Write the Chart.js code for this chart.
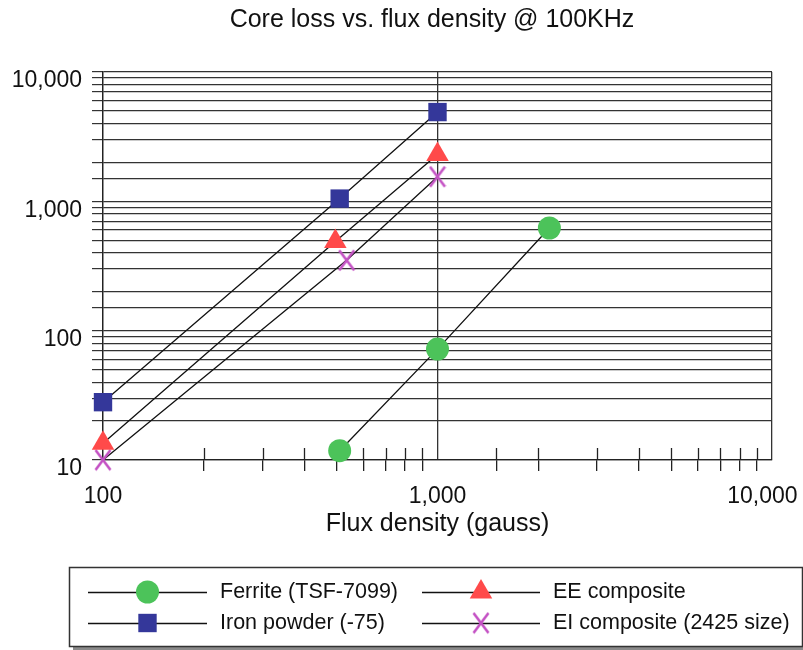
<!DOCTYPE html>
<html>
<head>
<meta charset="utf-8">
<script src="https://cdn.jsdelivr.net/npm/chart.js@4/dist/chart.umd.min.js"></script>
<style>
  body { margin: 0; background: #fff; }
</style>
</head>
<body>
<canvas id="myChart" width="803" height="650"></canvas>
<script>
// data (gauss, mW/cm3)
const chartTitle = 'Core loss vs. flux density @ 100KHz';
const seriesNames = ['Ferrite (TSF-7099)', 'Iron powder (-75)', 'EE composite', 'EI composite (2425 size)'];
const ferriteX = [510, 1000, 2160];
const ferriteY = [11.8, 72, 622];
const ironX = [100, 510, 1000];
const ironY = [28, 1050, 4900];
const eeX = [100, 495, 1000];
const eeY = [13.5, 490, 2300];
const eiX = [100, 535, 1000];
const eiY = [10, 350, 1550];
const xTickLabels = [100, 1000, 10000];
const yTickLabels = [10, 100, 1000, 10000];

const FONT = "'Liberation Sans', Arial, sans-serif";
Chart.defaults.font.family = FONT;
Chart.defaults.color = '#111';

const isPow10 = v => Math.abs(Math.log10(v) - Math.round(Math.log10(v))) < 1e-9;
const pts = (xs, ys) => xs.map((x, i) => ({x: x, y: ys[i]}));

// tall X marker
const xMark = document.createElement('canvas');
xMark.width = 18; xMark.height = 23;
(() => {
  const c = xMark.getContext('2d');
  c.strokeStyle = '#c452c4';
  c.lineWidth = 2.6;
  c.beginPath();
  c.moveTo(1.5, 1.5); c.lineTo(16.5, 21.5);
  c.moveTo(16.5, 1.5); c.lineTo(1.5, 21.5);
  c.stroke();
})();

const mk = (label, data, color, style, radius) => ({
  label: label,
  data: data,
  showLine: true,
  clip: false,
  borderColor: '#111',
  borderWidth: 1.3,
  pointStyle: style,
  pointRadius: radius,
  pointHoverRadius: radius,
  pointBackgroundColor: color,
  pointBorderColor: color,
  pointBorderWidth: 0,
  _mark: color
});

const datasets = [
  mk(seriesNames[0], pts(ferriteX, ferriteY), '#4cc35a', 'circle', 11.5),
  mk(seriesNames[1], pts(ironX, ironY), '#34379a', 'rect', 13),
  mk(seriesNames[2], pts(eeX, eeY), '#ff4a4a', 'triangle', 13),
  mk(seriesNames[3], pts(eiX, eiY), '#c452c4', xMark, 12)
];

// title centred over the plot
const topTitle = {
  id: 'topTitle',
  afterDraw(chart) {
    const ctx = chart.ctx;
    ctx.save();
    ctx.fillStyle = '#111';
    ctx.font = '25px ' + FONT;
    ctx.textAlign = 'center';
    ctx.textBaseline = 'middle';
    ctx.fillText(chartTitle, 432, 20);
    ctx.restore();
  }
};

// short minor ticks poking up from the x axis
const minorTicks = {
  id: 'minorTicks',
  beforeDatasetsDraw(chart) {
    const sx = chart.scales.x, ctx = chart.ctx;
    const b = chart.chartArea.bottom;
    ctx.save();
    ctx.strokeStyle = '#222';
    ctx.lineWidth = 1.3;
    sx.ticks.forEach(t => {
      if (isPow10(t.value)) return;
      const px = Math.round(sx.getPixelForValue(t.value)) + 0.5;
      ctx.beginPath();
      ctx.moveTo(px, b - 12);
      ctx.lineTo(px, b);
      ctx.stroke();
    });
    ctx.restore();
  }
};

// boxed legend at the bottom, line through marker
const boxLegend = {
  id: 'boxLegend',
  afterDraw(chart) {
    const ctx = chart.ctx;
    const L = 69, T = 567, W = 733, H = 79;
    ctx.save();
    ctx.fillStyle = '#8a8a8a';
    ctx.fillRect(L + 4, T + 4, W, H);
    ctx.fillStyle = '#fff';
    ctx.fillRect(L, T, W, H);
    ctx.strokeStyle = '#333';
    ctx.lineWidth = 1.5;
    ctx.strokeRect(L + 0.5, T + 0.5, W, H);

    const cols = [{x0: 88, x1: 207, tx: 220}, {x0: 422, x1: 540, tx: 553}];
    const rows = [592, 623];
    const order = [[0, 0, 0], [1, 0, 1], [2, 1, 0], [3, 1, 1]];
    order.forEach(([i, c, r]) => {
      const ds = chart.data.datasets[i];
      const col = cols[c], y = rows[r];
      ctx.strokeStyle = '#111';
      ctx.lineWidth = 1.3;
      ctx.beginPath();
      ctx.moveTo(col.x0, y + 0.5);
      ctx.lineTo(col.x1, y + 0.5);
      ctx.stroke();
      ctx.fillStyle = ds._mark;
      ctx.strokeStyle = ds._mark;
      Chart.helpers.drawPoint(ctx, {pointStyle: ds.pointStyle, radius: ds.pointRadius, borderWidth: 0, rotation: 0},
        (col.x0 + col.x1) / 2, y);
      ctx.fillStyle = '#111';
      ctx.font = '21.5px ' + FONT;
      ctx.textBaseline = 'middle';
      ctx.textAlign = 'left';
      ctx.fillText(ds.label, col.tx, y);
    });
    ctx.restore();
  }
};

const config = {
  type: 'scatter',
  data: { datasets: datasets },
  options: {
    responsive: false,
    animation: false,
    layout: { padding: { top: 72, left: 0, right: 31, bottom: 110 } },
    plugins: {
      legend: { display: false },
      tooltip: { enabled: false },
      title: { display: false }
    },
    scales: {
      x: {
        type: 'logarithmic',
        min: 100,
        max: 10000,
        afterFit: s => { s.height = 80; s.paddingLeft = 0; s.paddingRight = 0; },
        border: { display: true, color: '#222', width: 1.3 },
        grid: {
          color: c => (c.tick && isPow10(c.tick.value)) ? '#333' : 'rgba(0,0,0,0)',
          tickColor: c => (c.tick && isPow10(c.tick.value)) ? 'rgba(0,0,0,0)' : '#222',
          lineWidth: 1.3,
          tickLength: 11
        },
        ticks: {
          autoSkip: false,
          maxRotation: 0,
          padding: 12,
          font: { size: 23 },
          color: '#111',
          // last label sits a little left of its tick in the reference
          callback: v => xTickLabels.includes(v) ? v.toLocaleString('en-US') + (v === 10000 ? '   ' : '') : ''
        },
        title: {
          display: true,
          text: 'Flux density (gauss)',
          font: { size: 25 },
          color: '#111',
          padding: { top: 0, bottom: 1 }
        }
      },
      y: {
        type: 'logarithmic',
        min: 10,
        max: 10000,
        afterFit: s => { s.width = 103; s.paddingTop = 0; s.paddingBottom = 0; },
        border: { display: true, color: '#222', width: 1.3 },
        grid: {
          color: '#333',
          tickColor: '#333',
          lineWidth: 1.2,
          tickLength: 11
        },
        ticks: {
          autoSkip: false,
          padding: 10,
          labelOffset: 9,
          font: { size: 23 },
          color: '#111',
          callback: v => yTickLabels.includes(v) ? v.toLocaleString('en-US') : ''
        }
      }
    }
  },
  plugins: [minorTicks, boxLegend, topTitle]
};

const ctx = document.getElementById('myChart').getContext('2d');
const chart = new Chart(ctx, config);
</script>
</body>
</html>
